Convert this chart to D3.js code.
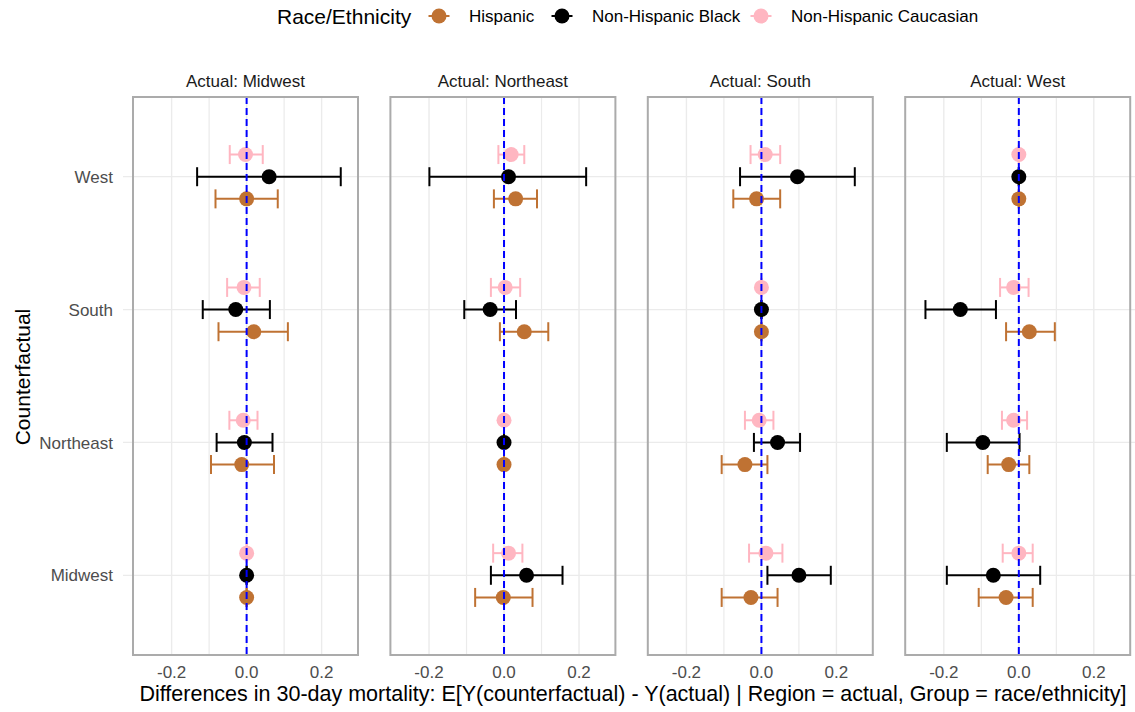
<!DOCTYPE html>
<html>
<head>
<meta charset="utf-8">
<script src="https://cdn.jsdelivr.net/npm/d3@7"></script>
<style>
  html, body { margin: 0; padding: 0; background: #ffffff; }
  svg { display: block; font-family: "Liberation Sans", Arial, Helvetica, sans-serif; }
</style>
</head>
<body>
<svg id="chart" width="1135" height="712"></svg>
<script>
// ---------------- DATA ----------------
const facets = ["Midwest", "Northeast", "South", "West"];            // actual region (panels)
const counterfactuals = ["Midwest", "Northeast", "South", "West"];   // y categories, bottom -> top
const groups = ["Hispanic", "Non-Hispanic Black", "Non-Hispanic Caucasian"];
const groupColors = ["#bf7233", "#000000", "#ffb6c1"];
const xTicks = [-0.2, 0.0, 0.2];
const xTickLabels = ["-0.2", "0.0", "0.2"];
const xMinorTicks = [-0.1, 0.1];

// Each inner array: one panel (facet order), values in counterfactual order [Midwest, Northeast, South, West]
const hispanicEst = [[0.000, -0.013, 0.019, 0.000], [-0.002, 0.000, 0.054, 0.031], [-0.028, -0.044, 0.000, -0.013], [-0.034, -0.027, 0.028, 0.000]];
const hispanicLo  = [[0.000, -0.095, -0.075, -0.083], [-0.077, 0.000, -0.011, -0.027], [-0.106, -0.106, 0.000, -0.075], [-0.107, -0.083, -0.034, 0.000]];
const hispanicHi  = [[0.000, 0.073, 0.110, 0.083], [0.076, 0.000, 0.118, 0.088], [0.043, 0.016, 0.000, 0.050], [0.037, 0.028, 0.096, 0.000]];

const blackEst = [[0.000, -0.006, -0.029, 0.060], [0.060, 0.000, -0.037, 0.012], [0.100, 0.043, 0.000, 0.096], [-0.068, -0.096, -0.156, 0.000]];
const blackLo  = [[0.000, -0.080, -0.117, -0.132], [-0.035, 0.000, -0.106, -0.199], [0.016, -0.020, 0.000, -0.057], [-0.192, -0.192, -0.249, 0.000]];
const blackHi  = [[0.000, 0.069, 0.062, 0.251], [0.156, 0.000, 0.032, 0.219], [0.185, 0.103, 0.000, 0.249], [0.057, 0.002, -0.061, 0.000]];

const caucEst = [[0.000, -0.009, -0.007, -0.003], [0.012, 0.000, 0.003, 0.019], [0.012, -0.006, 0.000, 0.010], [0.000, -0.014, -0.014, 0.000]];
const caucLo  = [[0.000, -0.046, -0.052, -0.045], [-0.029, 0.000, -0.035, -0.015], [-0.033, -0.044, 0.000, -0.029], [-0.043, -0.045, -0.050, 0.000]];
const caucHi  = [[0.000, 0.029, 0.035, 0.043], [0.049, 0.000, 0.043, 0.054], [0.056, 0.032, 0.000, 0.050], [0.037, 0.022, 0.026, 0.000]];

// ---------------- BUILD ROWS ----------------
const seriesEst = [hispanicEst, blackEst, caucEst];
const seriesLo = [hispanicLo, blackLo, caucLo];
const seriesHi = [hispanicHi, blackHi, caucHi];
const rows = [];
facets.forEach((f, fi) => {
  counterfactuals.forEach((c, ci) => {
    groups.forEach((g, gi) => {
      rows.push({ facet: f, cf: c, group: g, est: seriesEst[gi][fi][ci], lo: seriesLo[gi][fi][ci], hi: seriesHi[gi][fi][ci] });
    });
  });
});

// ---------------- LAYOUT ----------------
const svg = d3.select("#chart");
const panelLeft0 = 133, panelStep = 257.4, panelW = 225;
const panelTop = 97, panelBottom = 655;

const x = d3.scaleLinear().domain([-0.303, 0.297]).range([0, panelW]);
const y = d3.scalePoint().domain(counterfactuals).range([panelBottom, panelTop]).padding(0.6);
const step = y.step();
const dodge = d3.scalePoint().domain(groups).range([0.1667 * step, -0.1667 * step]);
const color = d3.scaleOrdinal().domain(groups).range(groupColors);
const capHalf = 9.5;
const gridColor = "#ebebeb";

// horizontal gridlines spanning the whole plotting strip (incl. gaps / tick stubs)
svg.append("g").selectAll("line").data(counterfactuals).join("line")
  .attr("x1", 123).attr("x2", 1135)
  .attr("y1", d => y(d)).attr("y2", d => y(d))
  .attr("stroke", gridColor).attr("stroke-width", 1.3);

// y-axis labels
svg.append("g").selectAll("text").data(counterfactuals).join("text")
  .attr("x", 113).attr("y", d => y(d)).attr("dy", "0.36em")
  .attr("text-anchor", "end").attr("font-size", 17).attr("fill", "#4d4d4d")
  .text(d => d);

facets.forEach((f, fi) => {
  const left = panelLeft0 + fi * panelStep;
  const g = svg.append("g").attr("transform", `translate(${left},0)`);

  g.append("rect").attr("x", 0).attr("y", panelTop).attr("width", panelW).attr("height", panelBottom - panelTop)
    .attr("fill", "#ffffff");

  // vertical grid (minor + major)
  g.selectAll(".vminor").data(xMinorTicks).join("line")
    .attr("x1", d => x(d)).attr("x2", d => x(d)).attr("y1", panelTop).attr("y2", panelBottom)
    .attr("stroke", gridColor).attr("stroke-width", 1.2);
  g.selectAll(".vmajor").data(xTicks).join("line")
    .attr("x1", d => x(d)).attr("x2", d => x(d)).attr("y1", panelTop).attr("y2", panelBottom)
    .attr("stroke", gridColor).attr("stroke-width", 1.4);
  // horizontal grid
  g.selectAll(".hgrid").data(counterfactuals).join("line")
    .attr("x1", 0).attr("x2", panelW).attr("y1", d => y(d)).attr("y2", d => y(d))
    .attr("stroke", gridColor).attr("stroke-width", 1.3);

  const data = rows.filter(r => r.facet === f);

  // error bars
  const eb = g.selectAll(".eb").data(data).join("g")
    .attr("transform", d => `translate(0,${y(d.cf) + dodge(d.group)})`)
    .attr("stroke", d => color(d.group)).attr("stroke-width", 2).attr("fill", "none");
  eb.append("line").attr("x1", d => x(d.lo)).attr("x2", d => x(d.hi)).attr("y1", 0).attr("y2", 0);
  eb.append("line").attr("x1", d => x(d.lo)).attr("x2", d => x(d.lo)).attr("y1", -capHalf).attr("y2", capHalf);
  eb.append("line").attr("x1", d => x(d.hi)).attr("x2", d => x(d.hi)).attr("y1", -capHalf).attr("y2", capHalf);

  // points
  g.selectAll(".pt").data(data).join("circle")
    .attr("cx", d => x(d.est)).attr("cy", d => y(d.cf) + dodge(d.group))
    .attr("r", 7.5).attr("fill", d => color(d.group));

  // reference line at 0
  g.append("line").attr("x1", x(0)).attr("x2", x(0)).attr("y1", panelTop).attr("y2", panelBottom)
    .attr("stroke", "#0000ff").attr("stroke-width", 2).attr("stroke-dasharray", "7,4");

  // panel border
  g.append("rect").attr("x", 0).attr("y", panelTop).attr("width", panelW).attr("height", panelBottom - panelTop)
    .attr("fill", "none").attr("stroke", "#ababab").attr("stroke-width", 2);

  // strip label
  g.append("text").attr("x", panelW / 2).attr("y", 86.5).attr("text-anchor", "middle")
    .attr("font-size", 17).attr("fill", "#1a1a1a").text("Actual: " + f);

  // x tick labels
  g.selectAll(".xt").data(xTicks).join("text")
    .attr("x", d => x(d)).attr("y", 678).attr("text-anchor", "middle")
    .attr("font-size", 17).attr("fill", "#4d4d4d").text((d, i) => xTickLabels[i]);
});

// axis titles
svg.append("text").attr("x", 633).attr("y", 701).attr("text-anchor", "middle")
  .attr("font-size", 21.5).attr("fill", "#000")
  .text("Differences in 30-day mortality: E[Y(counterfactual) - Y(actual) | Region = actual, Group = race/ethnicity]");
svg.append("text").attr("transform", "translate(30,377) rotate(-90)").attr("text-anchor", "middle")
  .attr("font-size", 21).attr("fill", "#000").text("Counterfactual");

// legend
const legY = 16;
svg.append("text").attr("x", 277).attr("y", legY).attr("dy", "0.36em").attr("font-size", 21).attr("fill", "#000")
  .text("Race/Ethnicity");
const keyX = [439, 562, 761];
const lg = svg.append("g").selectAll("g").data(groups).join("g")
  .attr("transform", (d, i) => `translate(${keyX[i]},${legY})`);
lg.append("line").attr("x1", -10.5).attr("x2", 10.5).attr("y1", 0).attr("y2", 0)
  .attr("stroke", d => color(d)).attr("stroke-width", 2);
lg.append("circle").attr("r", 7.5).attr("fill", d => color(d));
lg.append("text").attr("x", 30).attr("dy", "0.36em").attr("font-size", 17).attr("fill", "#000").text(d => d);
</script>
</body>
</html>
